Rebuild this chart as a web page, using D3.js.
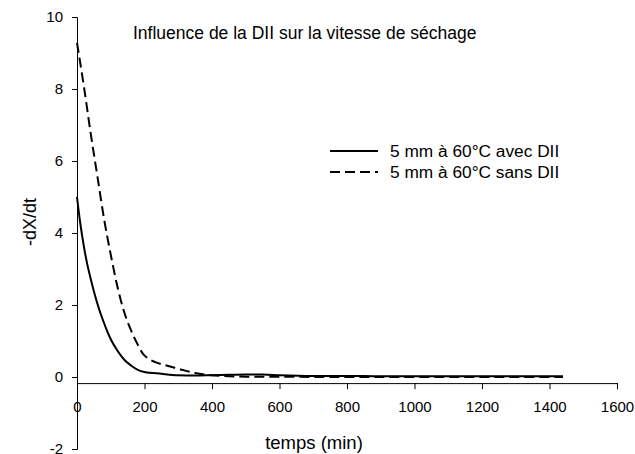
<!DOCTYPE html>
<html>
<head>
<meta charset="utf-8">
<script src="https://cdn.jsdelivr.net/npm/d3@7"></script>
<style>
  body { margin: 0; background: #fff; }
  text { font-family: "Liberation Sans", Arial, sans-serif; fill: #000; }
</style>
</head>
<body>
<svg id="chart"></svg>
<script>
// time (min) and -dX/dt values
var timeAvec = [0, 10, 20, 30, 40, 50, 60, 70, 80, 90, 100, 120, 140, 160, 180, 200, 250, 300, 350, 400, 450, 500, 550, 600, 700, 800, 900, 1000, 1100, 1200, 1300, 1440];
var avecDII  = [5.0, 4.25, 3.65, 3.15, 2.75, 2.38, 2.05, 1.76, 1.5, 1.26, 1.05, 0.73, 0.48, 0.32, 0.2, 0.14, 0.09, 0.05, 0.04, 0.05, 0.06, 0.07, 0.07, 0.05, 0.03, 0.03, 0.02, 0.02, 0.02, 0.02, 0.02, 0.02];

var timeSans = [0, 20, 40, 60, 80, 100, 120, 140, 160, 180, 195, 210, 230, 260, 300, 350, 400, 450, 500, 600, 700, 800, 900, 1000, 1100, 1200, 1300, 1440];
var sansDII  = [9.28, 8.1, 6.8, 5.6, 4.4, 3.4, 2.5, 1.8, 1.3, 0.9, 0.65, 0.52, 0.42, 0.33, 0.23, 0.11, 0.05, 0.02, 0.01, 0.01, 0.0, 0.0, 0.0, 0.0, 0.0, 0.0, 0.0, 0.0];

var xTicks = [0, 200, 400, 600, 800, 1000, 1200, 1400, 1600];
var yTicks = [-2, 0, 2, 4, 6, 8, 10];

var seriesNames = ["5 mm à 60°C avec DII", "5 mm à 60°C sans DII"];

var width = 635, height = 454;

var svg = d3.select("#chart")
  .attr("width", width)
  .attr("height", height);

var x = d3.scaleLinear().domain([0, 1600]).range([77, 617]);
var y = d3.scaleLinear().domain([-2, 10]).range([449, 17]);

// horizontal axis crosses a bit below zero, like the original
var xCross = -0.17;

// plain hyphen for negatives, as in the original
var fmt = function(d) { return String(d); };

// y axis
svg.append("g")
  .attr("transform", "translate(" + x(0) + ",0)")
  .call(d3.axisLeft(y).tickValues(yTicks).tickSize(5).tickPadding(9).tickFormat(fmt))
  .call(function(g) {
    g.select(".domain").attr("stroke", "#000");
    g.selectAll(".tick line").attr("stroke", "#000");
    g.selectAll(".tick text").style("font-size", "15px");
  });

// x axis
svg.append("g")
  .attr("transform", "translate(0," + y(xCross) + ")")
  .call(d3.axisBottom(x).tickValues(xTicks).tickSize(6).tickPadding(12).tickFormat(fmt))
  .call(function(g) {
    g.select(".domain").attr("stroke", "#000");
    g.selectAll(".tick line").attr("stroke", "#000");
    g.selectAll(".tick text").style("font-size", "15px");
  });

var line = d3.line()
  .x(function(d) { return x(d[0]); })
  .y(function(d) { return y(d[1]); })
  .curve(d3.curveMonotoneX);

svg.append("path")
  .datum(d3.zip(timeAvec, avecDII))
  .attr("d", line)
  .attr("fill", "none")
  .attr("stroke", "#000")
  .attr("stroke-width", 2);

svg.append("path")
  .datum(d3.zip(timeSans, sansDII))
  .attr("d", line)
  .attr("fill", "none")
  .attr("stroke", "#000")
  .attr("stroke-width", 2)
  .attr("stroke-dasharray", "10,5");

// title
svg.append("text")
  .attr("x", 133)
  .attr("y", 39)
  .style("font-size", "17.5px")
  .text("Influence de la DII sur la vitesse de séchage");

// legend
var legend = svg.append("g");
seriesNames.forEach(function(name, i) {
  var ly = 151 + i * 21;
  legend.append("line")
    .attr("x1", 330).attr("x2", 378)
    .attr("y1", ly).attr("y2", ly)
    .attr("stroke", "#000")
    .attr("stroke-width", 2)
    .attr("stroke-dasharray", i === 1 ? "10,5" : null);
  legend.append("text")
    .attr("x", 390)
    .attr("y", ly)
    .attr("dy", "0.35em")
    .style("font-size", "17.3px")
    .text(name);
});

// axis titles
svg.append("text")
  .attr("transform", "translate(36,222) rotate(-90)")
  .attr("text-anchor", "middle")
  .style("font-size", "18px")
  .text("-dX/dt");

svg.append("text")
  .attr("x", 314)
  .attr("y", 449)
  .attr("text-anchor", "middle")
  .style("font-size", "18.5px")
  .text("temps (min)");
</script>
</body>
</html>
